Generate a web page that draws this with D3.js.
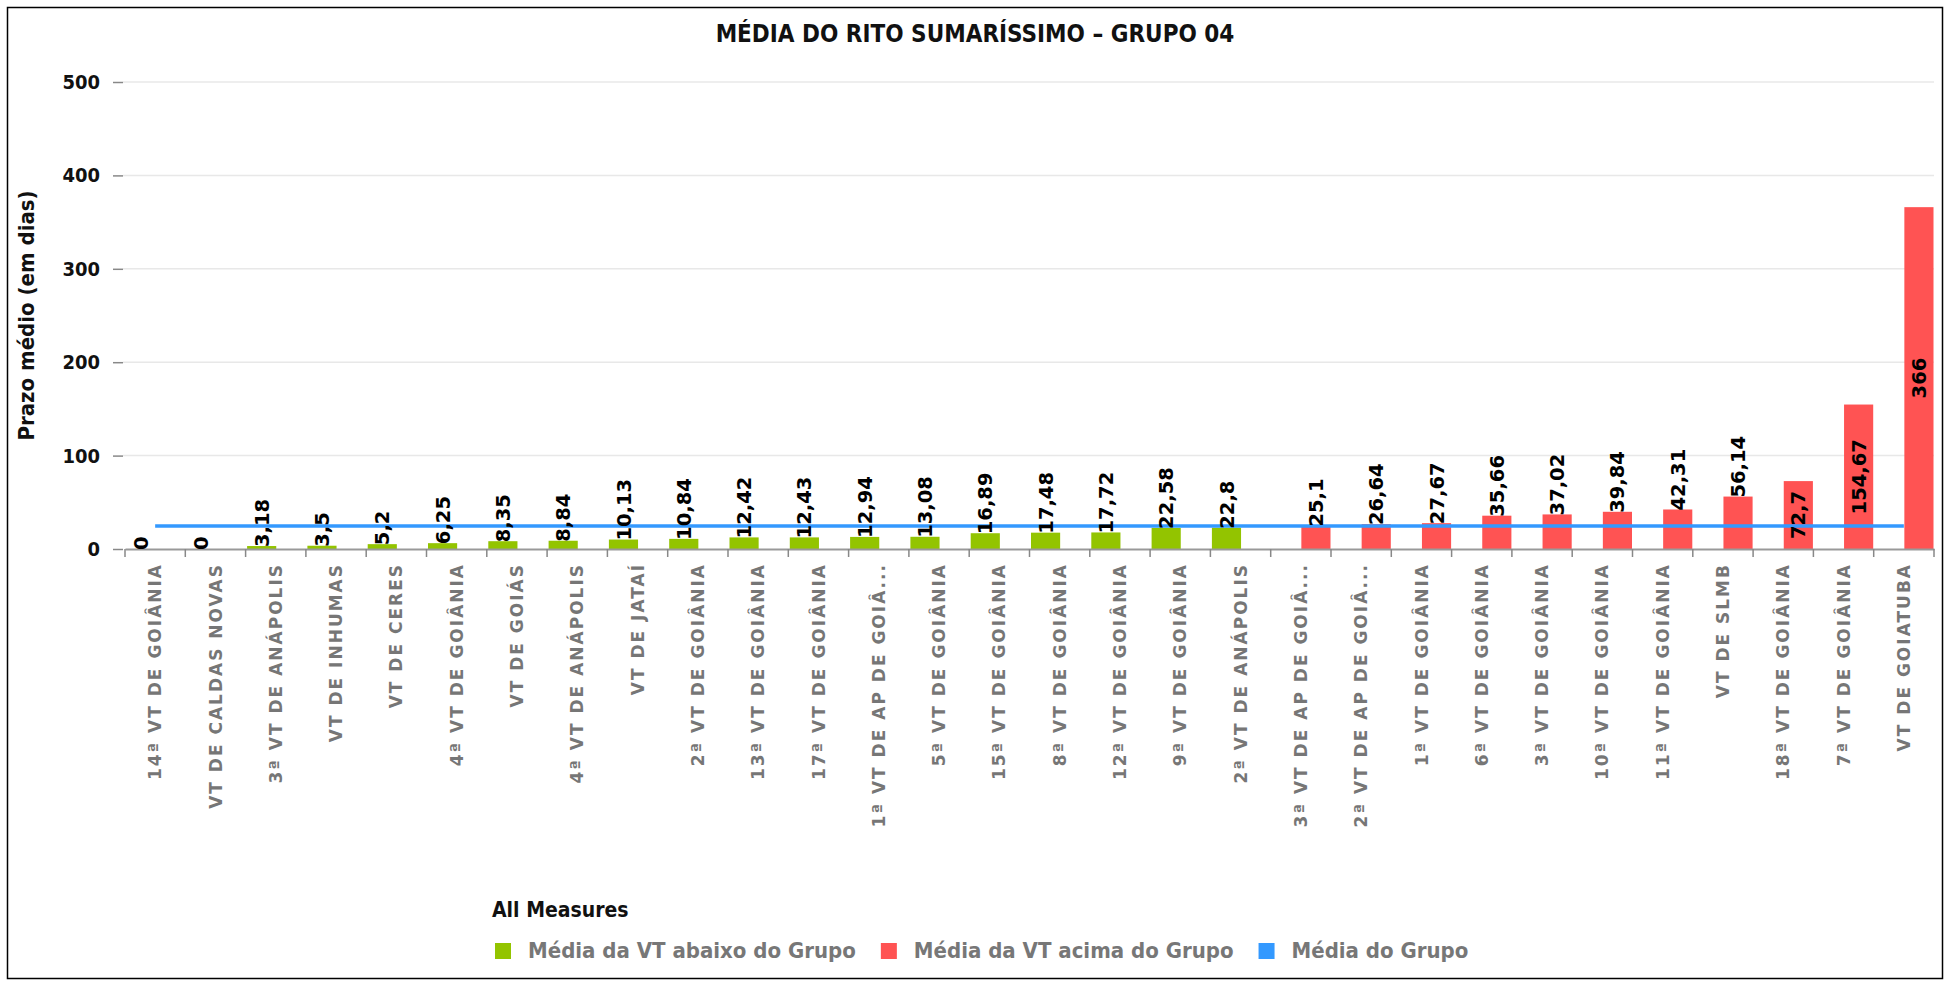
<!DOCTYPE html>
<html>
<head>
<meta charset="utf-8">
<script src="https://cdnjs.cloudflare.com/ajax/libs/d3/7.8.5/d3.min.js"></script>
<style>
  body { margin: 0; background: #fff; }
  svg text { font-family: "DejaVu Sans Condensed", "DejaVu Sans", sans-serif; }
  svg text.largo { font-family: "DejaVu Sans", sans-serif; }
</style>
</head>
<body>
<div id="chart"></div>
<script>

const titulo = "MÉDIA DO RITO SUMARÍSSIMO – GRUPO 04";

const categorias = [
  "14ª VT DE GOIÂNIA", "VT DE CALDAS NOVAS", "3ª VT DE ANÁPOLIS", "VT DE INHUMAS",
  "VT DE CERES", "4ª VT DE GOIÂNIA", "VT DE GOIÁS", "4ª VT DE ANÁPOLIS", "VT DE JATAÍ",
  "2ª VT DE GOIÂNIA", "13ª VT DE GOIÂNIA", "17ª VT DE GOIÂNIA", "1ª VT DE AP DE GOIÂ...",
  "5ª VT DE GOIÂNIA", "15ª VT DE GOIÂNIA", "8ª VT DE GOIÂNIA", "12ª VT DE GOIÂNIA",
  "9ª VT DE GOIÂNIA", "2ª VT DE ANÁPOLIS", "3ª VT DE AP DE GOIÂ...", "2ª VT DE AP DE GOIÂ...",
  "1ª VT DE GOIÂNIA", "6ª VT DE GOIÂNIA", "3ª VT DE GOIÂNIA", "10ª VT DE GOIÂNIA",
  "11ª VT DE GOIÂNIA", "VT DE SLMB", "18ª VT DE GOIÂNIA", "7ª VT DE GOIÂNIA", "VT DE GOIATUBA"
];

// media da VT abaixo do grupo (verde)
const mediaAbaixo = [
  0, 0, 3.18, 3.5, 5.2, 6.25, 8.35, 8.84, 10.13, 10.84, 12.42, 12.43, 12.94, 13.08,
  16.89, 17.48, 17.72, 22.58, 22.8,
  null, null, null, null, null, null, null, null, null, null, null
];

// media da VT acima do grupo (vermelho)
const mediaAcima = [
  null, null, null, null, null, null, null, null, null, null, null, null, null, null,
  null, null, null, null, null,
  25.1, 26.64, 27.67, 35.66, 37.02, 39.84, 42.31, 56.14, 72.7, 154.67, 366
];

const mediaGrupo = 24.5;

const yTicks = [0, 100, 200, 300, 400, 500];

const series = [
  { key: "abaixo", nome: "Média da VT abaixo do Grupo", cor: "#93c400", valores: mediaAbaixo },
  { key: "acima", nome: "Média da VT acima do Grupo", cor: "#ff5353", valores: mediaAcima }
];
const corLinha = "#3399ff";

const w = 1950, h = 985;
const plot = { left: 125, right: 1934, top: 82, bottom: 549 };

const fmt = d3.formatLocale({ decimal: ",", thousands: ".", grouping: [3], currency: ["", ""] }).format("~f");

const svg = d3.select("#chart").append("svg")
  .attr("width", w)
  .attr("height", h);

// moldura
svg.append("rect")
  .attr("x", 7.5).attr("y", 7.5)
  .attr("width", w - 15).attr("height", h - 14)
  .attr("fill", "#fff")
  .attr("stroke", "#000")
  .attr("stroke-width", 1.5);

svg.append("text")
  .attr("x", w / 2)
  .attr("y", 42)
  .attr("text-anchor", "middle")
  .attr("font-size", 24)
  .attr("font-weight", "bold")
  .attr("fill", "#111")
  .text(titulo);

const x0 = d3.scaleBand()
  .domain(categorias)
  .range([plot.left, plot.right])
  .padding(0);

const x1 = d3.scaleBand()
  .domain(series.map(s => s.key))
  .range([1.5, x0.bandwidth() - 0.5])
  .padding(0);

const y = d3.scaleLinear()
  .domain([0, 500])
  .range([plot.bottom, plot.top]);

// grid
svg.append("g")
  .selectAll("line")
  .data(yTicks.filter(t => t > 0))
  .join("line")
  .attr("x1", plot.left - 2)
  .attr("x2", plot.right)
  .attr("y1", d => y(d))
  .attr("y2", d => y(d))
  .attr("stroke", "#e8e8e8")
  .attr("stroke-width", 1.5);

// eixo y
const yAxis = svg.append("g")
  .attr("transform", `translate(${plot.left - 2}, 0)`)
  .call(d3.axisLeft(y).tickValues(yTicks).tickSize(10).tickPadding(13).tickFormat(d3.format("d")));
yAxis.select(".domain").remove();
yAxis.selectAll("line").attr("stroke", "#888").attr("stroke-width", 1.5);
yAxis.selectAll("text")
  .attr("font-size", 20)
  .attr("font-weight", "bold")
  .attr("fill", "#111");

svg.append("text")
  .attr("transform", `translate(34, ${(plot.top + plot.bottom) / 2}) rotate(-90)`)
  .attr("text-anchor", "middle")
  .attr("font-size", 22)
  .attr("font-weight", "bold")
  .attr("fill", "#111")
  .text("Prazo médio (em dias)");

// barras
const linhas = categorias.map((c, i) => ({ cat: c, i: i }));

series.forEach(s => {
  svg.append("g")
    .selectAll("rect")
    .data(linhas.filter(d => s.valores[d.i] !== null))
    .join("rect")
    .attr("x", d => x0(d.cat) + x1(s.key))
    .attr("width", x1.bandwidth())
    .attr("y", d => y(s.valores[d.i]))
    .attr("height", d => plot.bottom - y(s.valores[d.i]))
    .attr("fill", s.cor);
});

// eixo x
const xAxis = svg.append("g")
  .attr("transform", `translate(0, ${plot.bottom})`)
  .call(d3.axisBottom(x0).tickSize(0).tickPadding(0));
xAxis.select(".domain").attr("stroke", "#999").attr("stroke-width", 2);
xAxis.selectAll("text")
  .attr("class", "largo")
  .attr("transform", "rotate(-90)")
  .attr("text-anchor", "end")
  .attr("x", -14)
  .attr("y", 0)
  .attr("dy", "0.36em")
  .attr("font-size", 17)
  .attr("letter-spacing", 2)
  .attr("font-weight", "bold")
  .attr("fill", "#767676");

// marcas nos limites das categorias
const limites = categorias.map(c => x0(c)).concat([plot.right]);
svg.append("g")
  .selectAll("line")
  .data(limites)
  .join("line")
  .attr("x1", d => d).attr("x2", d => d)
  .attr("y1", plot.bottom)
  .attr("y2", plot.bottom + 8)
  .attr("stroke", "#888")
  .attr("stroke-width", 1.5);

// linha da media do grupo
svg.append("line")
  .attr("x1", x0(categorias[0]) + x0.bandwidth() / 2)
  .attr("x2", x0(categorias[categorias.length - 1]) + x0.bandwidth() / 2)
  .attr("y1", y(mediaGrupo))
  .attr("y2", y(mediaGrupo))
  .attr("stroke", corLinha)
  .attr("stroke-width", 3.5);

// rotulos de valor
series.forEach(s => {
  svg.append("g")
    .selectAll("text")
    .data(linhas.filter(d => s.valores[d.i] !== null))
    .join("text")
    .attr("class", "largo")
    .attr("font-size", 19.5)
    .attr("font-weight", "bold")
    .attr("fill", "#000")
    .text(d => fmt(s.valores[d.i]))
    .each(function(d) {
      const v = s.valores[d.i];
      const cx = x0(d.cat) + x1(s.key) + x1.bandwidth() / 2;
      const alt = plot.bottom - y(v);
      const len = this.getComputedTextLength();
      const el = d3.select(this);
      if (len + 10 < alt) {
        el.attr("text-anchor", "middle")
          .attr("transform", `translate(${cx}, ${y(v) + alt / 2}) rotate(-90)`);
      } else {
        el.attr("text-anchor", "start")
          .attr("transform", `translate(${cx}, ${y(v) + 1}) rotate(-90)`);
      }
      el.attr("dy", "0.36em");
    });
});

// legenda
const leg = svg.append("g").attr("transform", "translate(492, 0)");
leg.append("text")
  .attr("x", 0)
  .attr("y", 917)
  .attr("font-size", 21)
  .attr("font-weight", "bold")
  .attr("fill", "#111")
  .text("All Measures");

const itensLegenda = series.map(s => ({ nome: s.nome, cor: s.cor }))
  .concat([{ nome: "Média do Grupo", cor: corLinha }]);

let lx = 3;
itensLegenda.forEach(it => {
  leg.append("rect")
    .attr("x", lx)
    .attr("y", 943)
    .attr("width", 16)
    .attr("height", 16)
    .attr("fill", it.cor);
  const t = leg.append("text")
    .attr("x", lx + 33)
    .attr("y", 958)
    .attr("font-size", 22)
    .attr("font-weight", "bold")
    .attr("fill", "#777")
    .text(it.nome);
  lx += 33 + t.node().getComputedTextLength() + 25;
});

</script>
</body>
</html>
